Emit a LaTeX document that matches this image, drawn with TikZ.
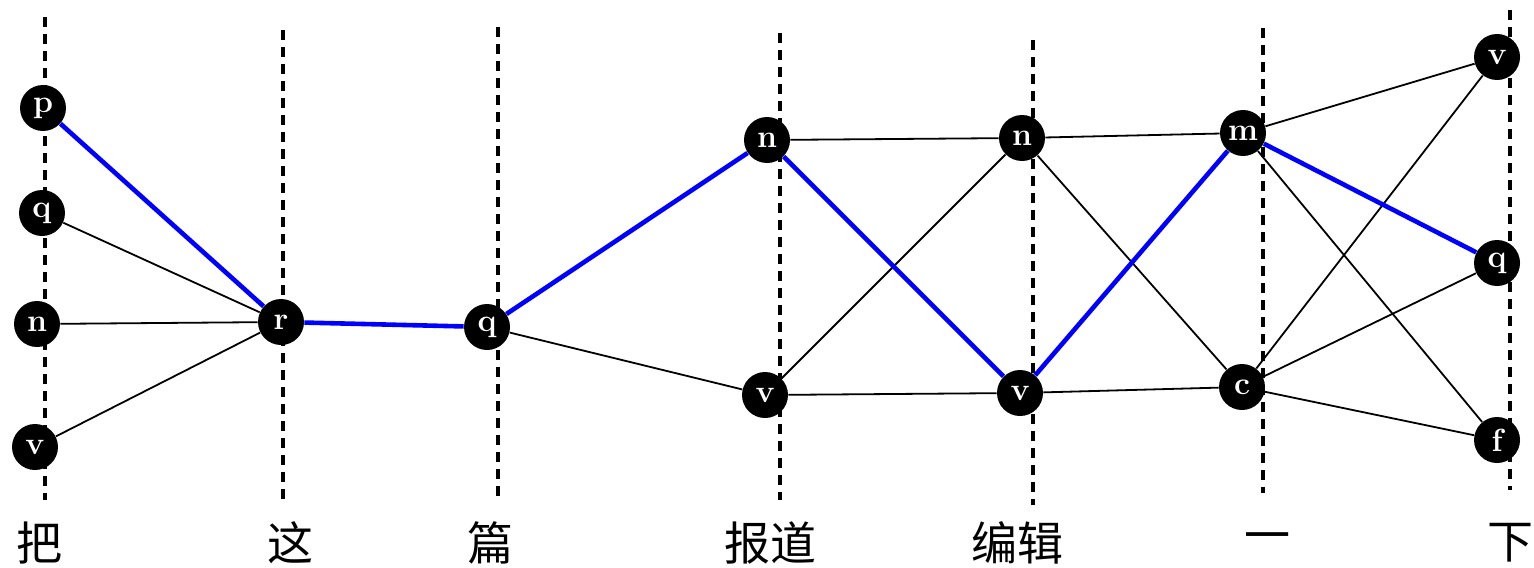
\documentclass[tikz,border=0pt]{standalone}
\usepackage{fontspec}
\newfontfamily\cjk{Noto Sans CJK SC}
\usepackage{tikz}
\usetikzlibrary{positioning}

\begin{document}
\begin{tikzpicture}[
	x=0.5pt, y=-0.5pt,
	tag/.style={circle, fill=black, text=white, inner sep=0pt, minimum size=23pt, font=\fontsize{16}{16}\selectfont\bfseries},
	word/.style={font=\cjk\fontsize{23}{23}\selectfont, inner sep=0pt},
	guide/.style={black, line width=1.6pt, dash pattern=on 5pt off 3.5pt},
	edge/.style={black, line width=0.9pt},
	best/.style={blue, line width=2.3pt}
]
\useasboundingbox (0,0) rectangle (1534,567);

% Dashed column lines
\draw[guide] (45,17) -- (45,500);
\draw[guide] (283,30) -- (283,500);
\draw[guide] (498,27) -- (498,500);
\draw[guide] (780,33) -- (780,500);
\draw[guide] (1033,40) -- (1033,505);
\draw[guide] (1263,28) -- (1263,493);
\draw[guide] (1510,10) -- (1510,490);

% Words
\node[word] (w-ba) at (40,543) {把};
\node[word] (w-zhe) at (290,543) {这};
\node[word] (w-pian) at (490,543) {篇};
\node[word] (w-baodao) at (770,543) {报道};
\node[word] (w-bianji) at (1017,543) {编辑};
\node[word] (w-yi) at (1267,543) {一};
\node[word] (w-xia) at (1510,543) {下};

% Tags for each word
\node[tag] (ba-p) at (43,108) {p};
\node[tag] (ba-q) at (42,213) {q};
\node[tag] (ba-n) at (37,324) {n};
\node[tag] (ba-v) at (35,447) {v};
\node[tag] (zhe-r) at (281,322) {r};
\node[tag] (pian-q) at (487,327) {q};
\node[tag] (bd-n) at (767,140) {n};
\node[tag] (bd-v) at (765,395) {v};
\node[tag] (bj-n) at (1022,138) {n};
\node[tag] (bj-v) at (1020,393) {v};
\node[tag] (yi-m) at (1243,133) {m};
\node[tag] (yi-c) at (1242,387) {c};
\node[tag] (xia-v) at (1497,57) {v};
\node[tag] (xia-q) at (1497,263) {q};
\node[tag] (xia-f) at (1497,440) {f};

% Transitions
\draw[edge] (ba-q) -- (zhe-r);
\draw[edge] (ba-n) -- (zhe-r);
\draw[edge] (ba-v) -- (zhe-r);
\draw[edge] (pian-q) -- (bd-v);
\draw[edge] (bd-n) -- (bj-n);
\draw[edge] (bd-v) -- (bj-n);
\draw[edge] (bd-v) -- (bj-v);
\draw[edge] (bj-n) -- (yi-m);
\draw[edge] (bj-n) -- (yi-c);
\draw[edge] (bj-v) -- (yi-c);
\draw[edge] (yi-m) -- (xia-v);
\draw[edge] (yi-m) -- (xia-f);
\draw[edge] (yi-c) -- (xia-v);
\draw[edge] (yi-c) -- (xia-q);
\draw[edge] (yi-c) -- (xia-f);

% Best path
\draw[best] (ba-p) -- (zhe-r);
\draw[best] (zhe-r) -- (pian-q);
\draw[best] (pian-q) -- (bd-n);
\draw[best] (bd-n) -- (bj-v);
\draw[best] (bj-v) -- (yi-m);
\draw[best] (yi-m) -- (xia-q);

\end{tikzpicture}
\end{document}
